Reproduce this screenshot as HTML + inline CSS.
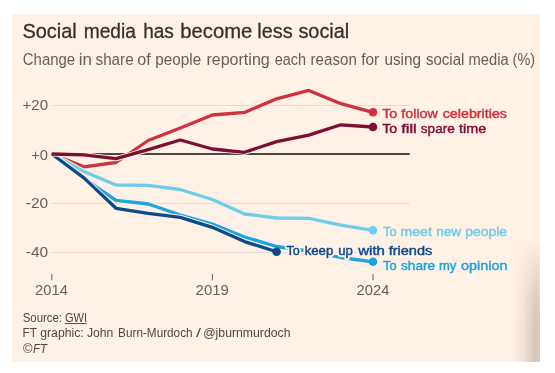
<!DOCTYPE html>
<html><head><meta charset="utf-8"><style>
html,body{margin:0;padding:0;background:#fff;}
body{width:555px;height:373px;position:relative;overflow:hidden;}
#panel{position:absolute;left:12px;top:14px;width:528px;height:348px;background:#fff1e5;}
#shade{position:absolute;left:512px;top:238px;width:28px;height:124px;background:linear-gradient(to right, rgba(80,70,60,0) 0%, rgba(80,70,60,0.07) 40%, rgba(80,70,60,0.26) 86%, rgba(80,70,60,0.2) 100%);-webkit-mask-image:linear-gradient(to bottom, transparent 0%, rgba(0,0,0,0.8) 45%, #000 70%);mask-image:linear-gradient(to bottom, transparent 0%, rgba(0,0,0,0.8) 45%, #000 70%);}
svg{position:absolute;left:0;top:0;will-change:transform;}
text{font-family:"Liberation Sans",sans-serif;white-space:pre;}
</style></head><body>
<div id="panel"></div>
<div id="shade"></div>
<svg width="555" height="373" viewBox="0 0 555 373">
<g stroke="#e6d9cd" stroke-width="1">
<line x1="51.5" y1="105.5" x2="409.7" y2="105.5"/>
<line x1="51.5" y1="203.4" x2="409.7" y2="203.4"/>
<line x1="51.5" y1="252.4" x2="409.7" y2="252.4"/>
</g>
<line x1="51.5" y1="154" x2="409.7" y2="154" stroke="#4a4745" stroke-width="1.8"/>
<g stroke="#66605c" stroke-width="1">
<line x1="51.8" y1="274" x2="51.8" y2="280.3"/>
<line x1="212.4" y1="274" x2="212.4" y2="280.3"/>
<line x1="373" y1="274" x2="373" y2="280.3"/>
</g>
<text x="22.47" y="37.6" font-size="20.5" fill="#33302e" stroke="#33302e" stroke-width="0.3" textLength="54.34" lengthAdjust="spacingAndGlyphs">Social</text>
<text x="83.73" y="37.6" font-size="20.5" fill="#33302e" stroke="#33302e" stroke-width="0.3" textLength="52.22" lengthAdjust="spacingAndGlyphs">media</text>
<text x="143.14" y="37.6" font-size="20.5" fill="#33302e" stroke="#33302e" stroke-width="0.3" textLength="30.68" lengthAdjust="spacingAndGlyphs">has</text>
<text x="180.27" y="37.6" font-size="20.5" fill="#33302e" stroke="#33302e" stroke-width="0.3" textLength="72.01" lengthAdjust="spacingAndGlyphs">become</text>
<text x="257.29" y="37.6" font-size="20.5" fill="#33302e" stroke="#33302e" stroke-width="0.3" textLength="35.41" lengthAdjust="spacingAndGlyphs">less</text>
<text x="298.42" y="37.6" font-size="20.5" fill="#33302e" stroke="#33302e" stroke-width="0.3" textLength="50.82" lengthAdjust="spacingAndGlyphs">social</text>
<text x="22.80" y="65" font-size="16" fill="#66605c" textLength="52.34" lengthAdjust="spacingAndGlyphs">Change</text>
<text x="78.74" y="65" font-size="16" fill="#66605c" textLength="13.16" lengthAdjust="spacingAndGlyphs">in</text>
<text x="95.52" y="65" font-size="16" fill="#66605c" textLength="38.12" lengthAdjust="spacingAndGlyphs">share</text>
<text x="137.24" y="65" font-size="16" fill="#66605c" textLength="13.45" lengthAdjust="spacingAndGlyphs">of</text>
<text x="155.35" y="65" font-size="16" fill="#66605c" textLength="45.81" lengthAdjust="spacingAndGlyphs">people</text>
<text x="206.40" y="65" font-size="16" fill="#66605c" textLength="63.36" lengthAdjust="spacingAndGlyphs">reporting</text>
<text x="274.82" y="65" font-size="16" fill="#66605c" textLength="31.23" lengthAdjust="spacingAndGlyphs">each</text>
<text x="310.55" y="65" font-size="16" fill="#66605c" textLength="46.25" lengthAdjust="spacingAndGlyphs">reason</text>
<text x="361.16" y="65" font-size="16" fill="#66605c" textLength="18.01" lengthAdjust="spacingAndGlyphs">for</text>
<text x="384.44" y="65" font-size="16" fill="#66605c" textLength="36.61" lengthAdjust="spacingAndGlyphs">using</text>
<text x="425.93" y="65" font-size="16" fill="#66605c" textLength="38.46" lengthAdjust="spacingAndGlyphs">social</text>
<text x="468.58" y="65" font-size="16" fill="#66605c" textLength="39.99" lengthAdjust="spacingAndGlyphs">media</text>
<text x="512.60" y="65" font-size="16" fill="#66605c" textLength="22.51" lengthAdjust="spacingAndGlyphs">(%)</text>
<text x="22.60" y="110.1" font-size="14" fill="#66605c" textLength="25.44" lengthAdjust="spacingAndGlyphs">+20</text>
<text x="31.21" y="159.8" font-size="14" fill="#66605c" textLength="16.78" lengthAdjust="spacingAndGlyphs">+0</text>
<text x="25.75" y="208.1" font-size="14" fill="#66605c" textLength="22.28" lengthAdjust="spacingAndGlyphs">-20</text>
<text x="25.75" y="257.0" font-size="14" fill="#66605c" textLength="22.28" lengthAdjust="spacingAndGlyphs">-40</text>
<text x="35.11" y="294.8" font-size="14" fill="#66605c" textLength="32.71" lengthAdjust="spacingAndGlyphs">2014</text>
<text x="195.60" y="294.8" font-size="14" fill="#66605c" textLength="33.20" lengthAdjust="spacingAndGlyphs">2019</text>
<text x="356.61" y="294.8" font-size="14" fill="#66605c" textLength="32.71" lengthAdjust="spacingAndGlyphs">2024</text>
<text x="22.72" y="322" font-size="12" fill="#4d4845" textLength="39.33" lengthAdjust="spacingAndGlyphs">Source:</text>
<text x="64.94" y="322" font-size="12" fill="#4d4845" textLength="22.19" lengthAdjust="spacingAndGlyphs">GWI</text>
<text x="22.41" y="336.7" font-size="12" fill="#4d4845" textLength="14.45" lengthAdjust="spacingAndGlyphs">FT</text>
<text x="40.19" y="336.7" font-size="12" fill="#4d4845" textLength="43.58" lengthAdjust="spacingAndGlyphs">graphic:</text>
<text x="86.95" y="336.7" font-size="12" fill="#4d4845" textLength="26.45" lengthAdjust="spacingAndGlyphs">John</text>
<text x="118.12" y="336.7" font-size="12" fill="#4d4845" textLength="74.44" lengthAdjust="spacingAndGlyphs">Burn-Murdoch</text>
<text x="196.10" y="336.7" font-size="12" fill="#4d4845" textLength="5.04" lengthAdjust="spacingAndGlyphs">/</text>
<text x="203.18" y="336.7" font-size="12" fill="#4d4845" textLength="87.35" lengthAdjust="spacingAndGlyphs">@jburnmurdoch</text>
<text x="22.93" y="352.6" font-size="12" fill="#4d4845" textLength="9.47" lengthAdjust="spacingAndGlyphs">©</text>
<text x="33.02" y="352.6" font-size="12" font-style="italic" fill="#4d4845" textLength="14.12" lengthAdjust="spacingAndGlyphs">FT</text>
<line x1="64.8" y1="323.6" x2="86.8" y2="323.6" stroke="#4d4845" stroke-width="1"/>
<polyline points="51.8,154.0 83.9,166.9 116.0,162.5 148.2,140.5 180.3,128.0 212.4,115.0 244.5,112.4 276.6,98.8 308.8,90.4 340.9,103.7 373.0,112.3" fill="none" stroke="#fff1e5" stroke-width="5.1" stroke-linejoin="round"/>
<polyline points="51.8,154.0 83.9,166.9 116.0,162.5 148.2,140.5 180.3,128.0 212.4,115.0 244.5,112.4 276.6,98.8 308.8,90.4 340.9,103.7 373.0,112.3" fill="none" stroke="#d1313f" stroke-width="3.3" stroke-linejoin="round"/>
<polyline points="51.8,154.0 83.9,171.4 116.0,185.0 148.2,185.4 180.3,189.5 212.4,199.5 244.5,214.0 276.6,218.0 308.8,218.4 340.9,225.2 373.0,230.3" fill="none" stroke="#fff1e5" stroke-width="5.1" stroke-linejoin="round"/>
<polyline points="51.8,154.0 83.9,171.4 116.0,185.0 148.2,185.4 180.3,189.5 212.4,199.5 244.5,214.0 276.6,218.0 308.8,218.4 340.9,225.2 373.0,230.3" fill="none" stroke="#6dcdea" stroke-width="3.3" stroke-linejoin="round"/>
<polyline points="51.8,154.0 83.9,178.3 116.0,200.4 148.2,204.0 180.3,215.0 212.4,224.0 244.5,237.0 276.6,246.5 308.8,251.0 340.9,257.5 373.0,261.8" fill="none" stroke="#fff1e5" stroke-width="5.1" stroke-linejoin="round"/>
<polyline points="51.8,154.0 83.9,178.3 116.0,200.4 148.2,204.0 180.3,215.0 212.4,224.0 244.5,237.0 276.6,246.5 308.8,251.0 340.9,257.5 373.0,261.8" fill="none" stroke="#1aa4e0" stroke-width="3.3" stroke-linejoin="round"/>
<polyline points="51.8,154.0 83.9,177.9 116.0,208.3 148.2,213.3 180.3,217.3 212.4,227.3 244.5,241.6 276.6,251.7" fill="none" stroke="#fff1e5" stroke-width="5.1" stroke-linejoin="round"/>
<polyline points="51.8,154.0 83.9,177.9 116.0,208.3 148.2,213.3 180.3,217.3 212.4,227.3 244.5,241.6 276.6,251.7" fill="none" stroke="#0c4a8a" stroke-width="3.3" stroke-linejoin="round"/>
<polyline points="51.8,154.0 83.9,154.9 116.0,158.7 148.2,149.7 180.3,140.0 212.4,149.0 244.5,152.3 276.6,141.6 308.8,135.1 340.9,124.8 373.0,127.0" fill="none" stroke="#fff1e5" stroke-width="5.1" stroke-linejoin="round"/>
<polyline points="51.8,154.0 83.9,154.9 116.0,158.7 148.2,149.7 180.3,140.0 212.4,149.0 244.5,152.3 276.6,141.6 308.8,135.1 340.9,124.8 373.0,127.0" fill="none" stroke="#7b0f34" stroke-width="3.3" stroke-linejoin="round"/>

<circle cx="373.0" cy="112.3" r="4.3" fill="#d1313f"/>
<circle cx="373.0" cy="230.3" r="4.3" fill="#6dcdea"/>
<circle cx="373.0" cy="261.8" r="4.3" fill="#1aa4e0"/>
<circle cx="276.6" cy="251.7" r="4.3" fill="#0c4a8a"/>
<circle cx="373.0" cy="127.0" r="4.3" fill="#7b0f34"/>

<text x="382.20" y="117.6" font-size="13.6" fill="#fff1e5" stroke="#fff1e5" stroke-width="4.4" textLength="14.97" lengthAdjust="spacingAndGlyphs" stroke-linejoin="round">To</text>
<text x="401.30" y="117.6" font-size="13.6" fill="#fff1e5" stroke="#fff1e5" stroke-width="4.4" textLength="36.65" lengthAdjust="spacingAndGlyphs" stroke-linejoin="round">follow</text>
<text x="442.74" y="117.6" font-size="13.6" fill="#fff1e5" stroke="#fff1e5" stroke-width="4.4" textLength="64.28" lengthAdjust="spacingAndGlyphs" stroke-linejoin="round">celebrities</text>
<text x="382.20" y="132.5" font-size="13.6" fill="#fff1e5" stroke="#fff1e5" stroke-width="4.4" textLength="14.97" lengthAdjust="spacingAndGlyphs" stroke-linejoin="round">To</text>
<text x="401.20" y="132.5" font-size="13.6" fill="#fff1e5" stroke="#fff1e5" stroke-width="4.4" textLength="15.62" lengthAdjust="spacingAndGlyphs" stroke-linejoin="round">fill</text>
<text x="420.85" y="132.5" font-size="13.6" fill="#fff1e5" stroke="#fff1e5" stroke-width="4.4" textLength="33.86" lengthAdjust="spacingAndGlyphs" stroke-linejoin="round">spare</text>
<text x="459.00" y="132.5" font-size="13.6" fill="#fff1e5" stroke="#fff1e5" stroke-width="4.4" textLength="27.16" lengthAdjust="spacingAndGlyphs" stroke-linejoin="round">time</text>
<text x="383.10" y="236" font-size="13.6" fill="#fff1e5" stroke="#fff1e5" stroke-width="4.4" textLength="13.64" lengthAdjust="spacingAndGlyphs" stroke-linejoin="round">To</text>
<text x="400.52" y="236" font-size="13.6" fill="#fff1e5" stroke="#fff1e5" stroke-width="4.4" textLength="31.36" lengthAdjust="spacingAndGlyphs" stroke-linejoin="round">meet</text>
<text x="436.15" y="236" font-size="13.6" fill="#fff1e5" stroke="#fff1e5" stroke-width="4.4" textLength="24.94" lengthAdjust="spacingAndGlyphs" stroke-linejoin="round">new</text>
<text x="465.23" y="236" font-size="13.6" fill="#fff1e5" stroke="#fff1e5" stroke-width="4.4" textLength="41.91" lengthAdjust="spacingAndGlyphs" stroke-linejoin="round">people</text>
<text x="286.50" y="254.9" font-size="13.6" fill="#fff1e5" stroke="#fff1e5" stroke-width="4.4" textLength="13.23" lengthAdjust="spacingAndGlyphs" stroke-linejoin="round">To</text>
<text x="304.67" y="254.9" font-size="13.6" fill="#fff1e5" stroke="#fff1e5" stroke-width="4.4" textLength="28.55" lengthAdjust="spacingAndGlyphs" stroke-linejoin="round">keep</text>
<text x="338.17" y="254.9" font-size="13.6" fill="#fff1e5" stroke="#fff1e5" stroke-width="4.4" textLength="14.69" lengthAdjust="spacingAndGlyphs" stroke-linejoin="round">up</text>
<text x="358.28" y="254.9" font-size="13.6" fill="#fff1e5" stroke="#fff1e5" stroke-width="4.4" textLength="26.68" lengthAdjust="spacingAndGlyphs" stroke-linejoin="round">with</text>
<text x="388.70" y="254.9" font-size="13.6" fill="#fff1e5" stroke="#fff1e5" stroke-width="4.4" textLength="43.63" lengthAdjust="spacingAndGlyphs" stroke-linejoin="round">friends</text>
<text x="383.10" y="270.3" font-size="13.6" fill="#fff1e5" stroke="#fff1e5" stroke-width="4.4" textLength="13.64" lengthAdjust="spacingAndGlyphs" stroke-linejoin="round">To</text>
<text x="401.05" y="270.3" font-size="13.6" fill="#fff1e5" stroke="#fff1e5" stroke-width="4.4" textLength="34.07" lengthAdjust="spacingAndGlyphs" stroke-linejoin="round">share</text>
<text x="438.88" y="270.3" font-size="13.6" fill="#fff1e5" stroke="#fff1e5" stroke-width="4.4" textLength="17.40" lengthAdjust="spacingAndGlyphs" stroke-linejoin="round">my</text>
<text x="461.14" y="270.3" font-size="13.6" fill="#fff1e5" stroke="#fff1e5" stroke-width="4.4" textLength="46.29" lengthAdjust="spacingAndGlyphs" stroke-linejoin="round">opinion</text>
<text x="382.20" y="117.6" font-size="13.6" fill="#d1313f" stroke="#d1313f" stroke-width="0.45" textLength="14.97" lengthAdjust="spacingAndGlyphs">To</text>
<text x="401.30" y="117.6" font-size="13.6" fill="#d1313f" stroke="#d1313f" stroke-width="0.45" textLength="36.65" lengthAdjust="spacingAndGlyphs">follow</text>
<text x="442.74" y="117.6" font-size="13.6" fill="#d1313f" stroke="#d1313f" stroke-width="0.45" textLength="64.28" lengthAdjust="spacingAndGlyphs">celebrities</text>
<text x="382.20" y="132.5" font-size="13.6" fill="#7b0f34" stroke="#7b0f34" stroke-width="0.45" textLength="14.97" lengthAdjust="spacingAndGlyphs">To</text>
<text x="401.20" y="132.5" font-size="13.6" fill="#7b0f34" stroke="#7b0f34" stroke-width="0.45" textLength="15.62" lengthAdjust="spacingAndGlyphs">fill</text>
<text x="420.85" y="132.5" font-size="13.6" fill="#7b0f34" stroke="#7b0f34" stroke-width="0.45" textLength="33.86" lengthAdjust="spacingAndGlyphs">spare</text>
<text x="459.00" y="132.5" font-size="13.6" fill="#7b0f34" stroke="#7b0f34" stroke-width="0.45" textLength="27.16" lengthAdjust="spacingAndGlyphs">time</text>
<text x="383.10" y="236" font-size="13.6" fill="#6dcdea" stroke="#6dcdea" stroke-width="0.45" textLength="13.64" lengthAdjust="spacingAndGlyphs">To</text>
<text x="400.52" y="236" font-size="13.6" fill="#6dcdea" stroke="#6dcdea" stroke-width="0.45" textLength="31.36" lengthAdjust="spacingAndGlyphs">meet</text>
<text x="436.15" y="236" font-size="13.6" fill="#6dcdea" stroke="#6dcdea" stroke-width="0.45" textLength="24.94" lengthAdjust="spacingAndGlyphs">new</text>
<text x="465.23" y="236" font-size="13.6" fill="#6dcdea" stroke="#6dcdea" stroke-width="0.45" textLength="41.91" lengthAdjust="spacingAndGlyphs">people</text>
<text x="286.50" y="254.9" font-size="13.6" fill="#0c4a8a" stroke="#0c4a8a" stroke-width="0.45" textLength="13.23" lengthAdjust="spacingAndGlyphs">To</text>
<text x="304.67" y="254.9" font-size="13.6" fill="#0c4a8a" stroke="#0c4a8a" stroke-width="0.45" textLength="28.55" lengthAdjust="spacingAndGlyphs">keep</text>
<text x="338.17" y="254.9" font-size="13.6" fill="#0c4a8a" stroke="#0c4a8a" stroke-width="0.45" textLength="14.69" lengthAdjust="spacingAndGlyphs">up</text>
<text x="358.28" y="254.9" font-size="13.6" fill="#0c4a8a" stroke="#0c4a8a" stroke-width="0.45" textLength="26.68" lengthAdjust="spacingAndGlyphs">with</text>
<text x="388.70" y="254.9" font-size="13.6" fill="#0c4a8a" stroke="#0c4a8a" stroke-width="0.45" textLength="43.63" lengthAdjust="spacingAndGlyphs">friends</text>
<text x="383.10" y="270.3" font-size="13.6" fill="#1aa4e0" stroke="#1aa4e0" stroke-width="0.45" textLength="13.64" lengthAdjust="spacingAndGlyphs">To</text>
<text x="401.05" y="270.3" font-size="13.6" fill="#1aa4e0" stroke="#1aa4e0" stroke-width="0.45" textLength="34.07" lengthAdjust="spacingAndGlyphs">share</text>
<text x="438.88" y="270.3" font-size="13.6" fill="#1aa4e0" stroke="#1aa4e0" stroke-width="0.45" textLength="17.40" lengthAdjust="spacingAndGlyphs">my</text>
<text x="461.14" y="270.3" font-size="13.6" fill="#1aa4e0" stroke="#1aa4e0" stroke-width="0.45" textLength="46.29" lengthAdjust="spacingAndGlyphs">opinion</text>
</svg>
</body></html>
